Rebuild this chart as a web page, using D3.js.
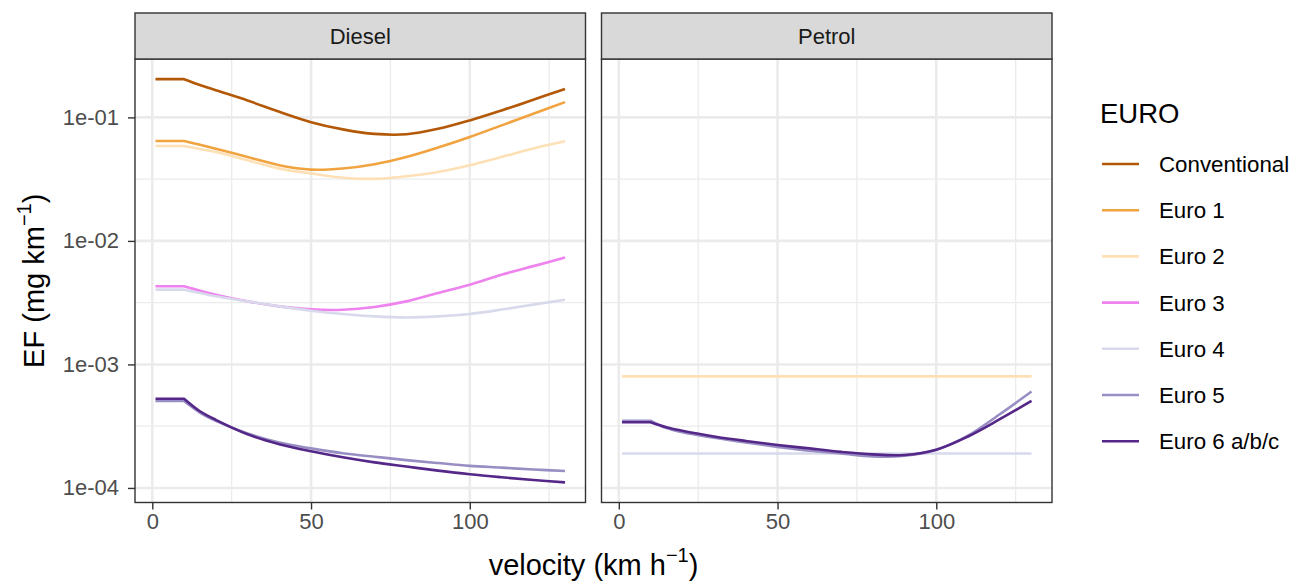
<!DOCTYPE html>
<html>
<head>
<meta charset="utf-8">
<script src="https://cdn.jsdelivr.net/npm/d3@7"></script>
<style>
  body { margin: 0; background: #fff; }
  text { font-family: "Liberation Sans", Arial, Helvetica, sans-serif; }
</style>
</head>
<body>
<svg id="chart" width="1295" height="583"></svg>
<script>
// velocity (km/h) at which the curves were read
var velocity = [1, 10, 15, 20, 30, 40, 50, 60, 70, 80, 90, 100, 110, 120, 130];

var euroLevels = ['Conventional', 'Euro 1', 'Euro 2', 'Euro 3', 'Euro 4', 'Euro 5', 'Euro 6 a/b/c'];
var euroColors = ['#b35806', '#f1a340', '#fee0b6', '#ee82ee', '#d8daeb', '#998ec3', '#542788'];
var fuels = ['Diesel', 'Petrol'];

// EF (mg/km), Diesel
var dieselConventional = [0.204, 0.204, 0.183, 0.166, 0.137, 0.111, 0.0915, 0.0800, 0.0735, 0.0730, 0.0808, 0.0946, 0.1139, 0.139, 0.170];
var dieselEuro1 = [0.0644, 0.0644, 0.060, 0.0558, 0.0478, 0.041, 0.0378, 0.0386, 0.0418, 0.0478, 0.057, 0.0694, 0.0862, 0.107, 0.133];
var dieselEuro2 = [0.0587, 0.0587, 0.0555, 0.0525, 0.045, 0.0385, 0.0352, 0.0325, 0.0318, 0.0334, 0.0362, 0.041, 0.0478, 0.056, 0.064];
var dieselEuro3 = [0.00429, 0.00429, 0.00395, 0.00367, 0.00324, 0.00295, 0.00279, 0.00277, 0.00292, 0.00324, 0.00379, 0.00442, 0.00532, 0.00625, 0.00733];
var dieselEuro4 = [0.00403, 0.00403, 0.00378, 0.00356, 0.00324, 0.00295, 0.00272, 0.00256, 0.00245, 0.0024, 0.00245, 0.00256, 0.00278, 0.00305, 0.00334];
var dieselEuro5 = [0.000505, 0.000505, 0.000407, 0.000349, 0.000276, 0.000233, 0.000209, 0.000191, 0.000179, 0.000168, 0.000159, 0.000151, 0.000146, 0.000141, 0.000137];
var dieselEuro6 = [0.000528, 0.000528, 0.000418, 0.000356, 0.000272, 0.000226, 0.000198, 0.000177, 0.000161, 0.000149, 0.000138, 0.000129, 0.000122, 0.000116, 0.000111];

// EF (mg/km), Petrol
var petrolEuro2 = [0.0008, 0.0008, 0.0008, 0.0008, 0.0008, 0.0008, 0.0008, 0.0008, 0.0008, 0.0008, 0.0008, 0.0008, 0.0008, 0.0008, 0.0008];
var petrolEuro4 = [0.00019, 0.00019, 0.00019, 0.00019, 0.00019, 0.00019, 0.00019, 0.00019, 0.00019, 0.00019, 0.00019, 0.00019, 0.00019, 0.00019, 0.00019];
var petrolEuro5 = [0.00035, 0.00035, 0.000305, 0.000283, 0.000255, 0.000233, 0.000215, 0.0002, 0.00019, 0.00018, 0.000182, 0.000204, 0.000265, 0.000395, 0.000603];
var petrolEuro6 = [0.00034, 0.00034, 0.00031, 0.00029, 0.000261, 0.00024, 0.000223, 0.000209, 0.000196, 0.000187, 0.000185, 0.000204, 0.000261, 0.00036, 0.000506];

var xTicks = [0, 50, 100];
var xMinor = [25, 75, 125];
var yTicks = [1e-4, 1e-3, 1e-2, 1e-1];

var series = [
  { fuel: 'Diesel', euro: 'Conventional', values: dieselConventional },
  { fuel: 'Diesel', euro: 'Euro 1', values: dieselEuro1 },
  { fuel: 'Diesel', euro: 'Euro 2', values: dieselEuro2 },
  { fuel: 'Diesel', euro: 'Euro 3', values: dieselEuro3 },
  { fuel: 'Diesel', euro: 'Euro 4', values: dieselEuro4 },
  { fuel: 'Diesel', euro: 'Euro 5', values: dieselEuro5 },
  { fuel: 'Diesel', euro: 'Euro 6 a/b/c', values: dieselEuro6 },
  { fuel: 'Petrol', euro: 'Euro 2', values: petrolEuro2 },
  { fuel: 'Petrol', euro: 'Euro 4', values: petrolEuro4 },
  { fuel: 'Petrol', euro: 'Euro 5', values: petrolEuro5 },
  { fuel: 'Petrol', euro: 'Euro 6 a/b/c', values: petrolEuro6 }
];

var color = d3.scaleOrdinal().domain(euroLevels).range(euroColors);

var svg = d3.select('#chart');

// layout, ggplot-ish
var panelTop = 59, panelBottom = 502.5, stripTop = 13;
var panels = [
  { fuel: 'Diesel', x0: 135, x1: 585.5 },
  { fuel: 'Petrol', x0: 601.5, x1: 1052 }
];

// shared scales with 5% expansion like ggplot
var xExt = d3.extent(velocity);
var xPad = (xExt[1] - xExt[0]) * 0.05;
var allVals = [];
series.forEach(function(s) { allVals = allVals.concat(s.values); });
var lExt = d3.extent(allVals, function(v) { return Math.log10(v); });
var lPad = (lExt[1] - lExt[0]) * 0.05;

var y = d3.scaleLog()
    .domain([Math.pow(10, lExt[0] - lPad), Math.pow(10, lExt[1] + lPad)])
    .range([panelBottom, panelTop]);

var yMinor = [-4.5, -3.5, -2.5, -1.5, -0.5].map(function(e) { return Math.pow(10, e); })
    .filter(function(v) { return v > y.domain()[0] && v < y.domain()[1]; });

function fmtExp(d) {
  var e = Math.round(Math.log10(d));
  return '1e' + (e < 0 ? '-' : '+') + String(Math.abs(e)).padStart(2, '0');
}

var lineLinear = d3.line().curve(d3.curveLinear);
var lineSmooth = d3.line().curve(d3.curveCatmullRom.alpha(0.5));

panels.forEach(function(p, pi) {
  var x = d3.scaleLinear()
      .domain([xExt[0] - xPad, xExt[1] + xPad])
      .range([p.x0, p.x1]);

  var g = svg.append('g');

  g.append('rect')
      .attr('x', p.x0).attr('y', panelTop)
      .attr('width', p.x1 - p.x0).attr('height', panelBottom - panelTop)
      .attr('fill', '#fff');

  // minor grid
  g.selectAll('.vminor').data(xMinor).enter().append('line')
      .attr('x1', function(d) { return x(d); }).attr('x2', function(d) { return x(d); })
      .attr('y1', panelTop).attr('y2', panelBottom)
      .attr('stroke', '#ebebeb').attr('stroke-width', 1.3);
  g.selectAll('.hminor').data(yMinor).enter().append('line')
      .attr('x1', p.x0).attr('x2', p.x1)
      .attr('y1', function(d) { return y(d); }).attr('y2', function(d) { return y(d); })
      .attr('stroke', '#ebebeb').attr('stroke-width', 1.3);

  // major grid
  g.selectAll('.vmajor').data(xTicks).enter().append('line')
      .attr('x1', function(d) { return x(d); }).attr('x2', function(d) { return x(d); })
      .attr('y1', panelTop).attr('y2', panelBottom)
      .attr('stroke', '#ebebeb').attr('stroke-width', 2.6);
  g.selectAll('.hmajor').data(yTicks).enter().append('line')
      .attr('x1', p.x0).attr('x2', p.x1)
      .attr('y1', function(d) { return y(d); }).attr('y2', function(d) { return y(d); })
      .attr('stroke', '#ebebeb').attr('stroke-width', 2.6);

  // lines: flat start drawn straight, the rest smoothed
  var sub = series.filter(function(s) { return s.fuel === p.fuel; });
  g.selectAll('.ef').data(sub).enter().append('path')
      .attr('fill', 'none')
      .attr('stroke', function(d) { return color(d.euro); })
      .attr('stroke-width', 2.6)
      .attr('stroke-linejoin', 'round')
      .attr('d', function(d) {
        var pts = velocity.map(function(v, i) { return [x(v), y(d.values[i])]; });
        var a = lineLinear(pts.slice(0, 2));
        var b = lineSmooth(pts.slice(1)).replace(/^M/, 'L');
        return a + b;
      });

  // panel border
  g.append('rect')
      .attr('x', p.x0).attr('y', panelTop)
      .attr('width', p.x1 - p.x0).attr('height', panelBottom - panelTop)
      .attr('fill', 'none').attr('stroke', '#333').attr('stroke-width', 1.4);

  // strip
  g.append('rect')
      .attr('x', p.x0).attr('y', stripTop)
      .attr('width', p.x1 - p.x0).attr('height', panelTop - stripTop)
      .attr('fill', '#d9d9d9').attr('stroke', '#333').attr('stroke-width', 1.4);
  g.append('text')
      .attr('x', (p.x0 + p.x1) / 2).attr('y', (stripTop + panelTop) / 2)
      .attr('dy', '0.36em')
      .attr('text-anchor', 'middle')
      .attr('font-size', 22).attr('fill', '#1a1a1a')
      .text(p.fuel);

  // x axis
  var xa = svg.append('g')
      .attr('transform', 'translate(0,' + panelBottom + ')')
      .call(d3.axisBottom(x).tickValues(xTicks).tickSize(7).tickPadding(4).tickFormat(d3.format('d')));
  xa.select('.domain').remove();
  xa.selectAll('line').attr('stroke', '#333').attr('stroke-width', 1.4);
  xa.selectAll('text').attr('font-size', 22).attr('fill', '#4d4d4d').attr('font-family', null);

  // y axis only on the first panel
  if (pi === 0) {
    var ya = svg.append('g')
        .attr('transform', 'translate(' + p.x0 + ',0)')
        .call(d3.axisLeft(y).tickValues(yTicks).tickSize(7).tickPadding(9).tickFormat(fmtExp));
    ya.select('.domain').remove();
    ya.selectAll('line').attr('stroke', '#333').attr('stroke-width', 1.4);
    ya.selectAll('text').attr('font-size', 22).attr('fill', '#4d4d4d').attr('font-family', null);
  }
});

// axis titles
var xt = svg.append('text')
    .attr('x', (panels[0].x0 + panels[1].x1) / 2).attr('y', 575)
    .attr('text-anchor', 'middle')
    .attr('font-size', 29).attr('fill', '#000');
xt.append('tspan').text('velocity (km h');
xt.append('tspan').attr('dy', -13).attr('font-size', 20).text('\u22121');
xt.append('tspan').attr('dy', 13).text(')');

var yt = svg.append('text')
    .attr('transform', 'translate(44,' + ((panelTop + panelBottom) / 2) + ') rotate(-90)')
    .attr('text-anchor', 'middle')
    .attr('font-size', 29).attr('fill', '#000');
yt.append('tspan').text('EF (mg km');
yt.append('tspan').attr('dy', -13).attr('font-size', 20).text('\u22121');
yt.append('tspan').attr('dy', 13).text(')');

// legend
var legend = svg.append('g');
legend.append('text')
    .attr('x', 1100).attr('y', 122.5)
    .attr('font-size', 27.5).attr('fill', '#000')
    .text('EURO');

var rows = legend.selectAll('.key').data(euroLevels).enter().append('g')
    .attr('transform', function(d, i) { return 'translate(0,' + (164 + i * 46.2) + ')'; });
rows.append('line')
    .attr('x1', 1102).attr('x2', 1139)
    .attr('stroke', function(d) { return color(d); })
    .attr('stroke-width', 2.6);
rows.append('text')
    .attr('x', 1159).attr('dy', '0.36em')
    .attr('font-size', 22.3).attr('fill', '#000')
    .text(function(d) { return d; });
</script>
</body>
</html>
